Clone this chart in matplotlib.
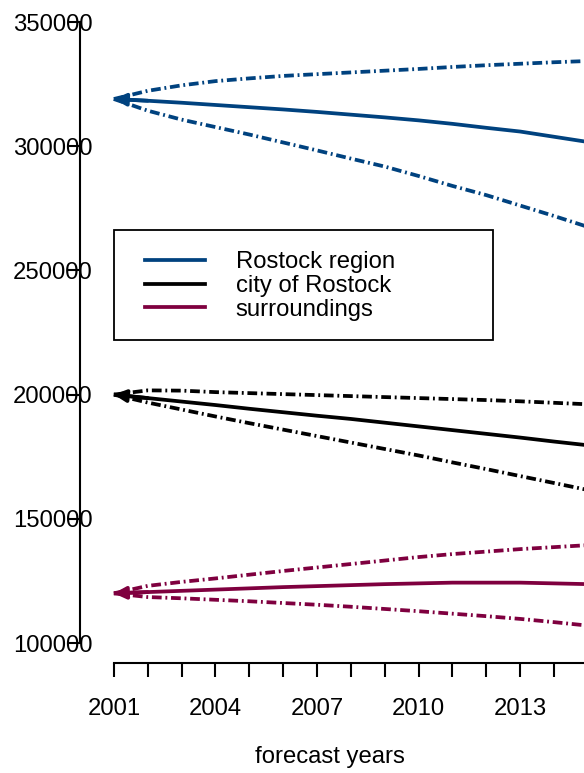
import matplotlib.pyplot as plt
from matplotlib.lines import Line2D
from matplotlib.patches import Rectangle

# -----------------------------------------------------------------------------
# DATA
# -----------------------------------------------------------------------------
years = [2001, 2002, 2003, 2004, 2005, 2006, 2007, 2008,
         2009, 2010, 2011, 2012, 2013, 2014, 2015]

region_mid = [319000, 318300, 317500, 316600, 315700, 314800, 313800, 312700,
              311600, 310400, 309000, 307400, 305900, 303800, 301700]
region_hi = [319000, 322300, 324500, 326200, 327300, 328300, 329000, 329700,
             330400, 331100, 331900, 332600, 333200, 333800, 334300]
region_lo = [319000, 314300, 310700, 307700, 304700, 301500, 298300, 295000,
             291800, 288000, 284000, 280300, 276100, 271900, 267500]

city_mid = [200000, 198600, 197200, 195800, 194300, 192900, 191500, 190200,
            188700, 187200, 185700, 184200, 182700, 181100, 179600]
city_hi = [200000, 201700, 201600, 201000, 200600, 200200, 199800, 199400,
           199000, 198600, 198200, 197800, 197300, 196700, 196100]
city_lo = [200000, 196800, 194000, 191200, 188500, 185900, 183300, 180700,
           178100, 175500, 172700, 170000, 167200, 164400, 161600]

surr_mid = [120000, 120500, 121000, 121500, 122000, 122500, 122900, 123300,
            123700, 124000, 124300, 124300, 124300, 124000, 123700]
surr_hi = [120000, 123000, 124600, 126000, 127500, 129000, 130400, 131800,
           133200, 134600, 135800, 136800, 137800, 138600, 139400]
surr_lo = [120000, 118500, 118000, 117400, 116800, 116100, 115400, 114600,
           113700, 112800, 111800, 110800, 109700, 108400, 107000]

labels = ["Rostock region", "city of Rostock", "surroundings"]
y_ticks = [100000, 150000, 200000, 250000, 300000, 350000]
x_label_years = [2001, 2004, 2007, 2010, 2013]

# -----------------------------------------------------------------------------
# STYLE
# -----------------------------------------------------------------------------
COLOR_REGION = "#00427F"
COLOR_CITY = "#000000"
COLOR_SURR = "#7F003F"
LW = 2.7
DOTDASH = (0, (2.6, 1.0, 0.5, 1.0))
FS = 17.2

W, H = 584, 773

plt.rcParams["font.family"] = ["Liberation Sans", "DejaVu Sans"]

fig = plt.figure(figsize=(W / 100, H / 100), dpi=100)
# axes run past the right edge, the reference is cropped there
ax = fig.add_axes([80 / W, 110 / H, 541.8 / W, 663 / H])
ax.set_xlim(2000.0, 2016.0)
ax.set_ylim(91950, 358857)

series = [
    (region_mid, region_hi, region_lo, COLOR_REGION),
    (city_mid, city_hi, city_lo, COLOR_CITY),
    (surr_mid, surr_hi, surr_lo, COLOR_SURR),
]
for mid, hi, lo, color in series:
    ax.plot(years, hi, color=color, lw=LW, linestyle=DOTDASH)
    ax.plot(years, lo, color=color, lw=LW, linestyle=DOTDASH)
    ax.plot(years, mid, color=color, lw=LW, solid_capstyle="butt")
    # arrow head at the start year
    ax.annotate("", xy=(years[0], mid[0]), xytext=(years[1], mid[1]),
                arrowprops=dict(arrowstyle="-|>", color=color, lw=LW,
                                mutation_scale=18, shrinkA=0, shrinkB=0))

# axes in R base style
for side in ["top", "right"]:
    ax.spines[side].set_visible(False)
ax.spines["left"].set_bounds(y_ticks[0], y_ticks[-1])
ax.spines["bottom"].set_bounds(years[0], 2016)
ax.spines["left"].set_linewidth(1.5)
ax.spines["bottom"].set_linewidth(1.5)

ax.set_yticks(y_ticks)
ax.set_yticklabels([str(v) for v in y_ticks])
ax.tick_params(axis="y", length=8.5, width=1.5, pad=-17.5, labelsize=FS)

ax.set_xticks(years + [2016])
ax.set_xticklabels([str(y) if y in x_label_years else "" for y in years] + [""])
ax.tick_params(axis="x", length=10, width=1.5, pad=15, labelsize=FS)

fig.text(330 / W, 1 - 757 / H, "forecast years", ha="center", va="center",
         fontsize=FS)

# legend box drawn separately so the inner offsets match the R layout
fig.patches.append(Rectangle((114 / W, 1 - 340 / H), 379 / W, 110 / H,
                             transform=fig.transFigure, fill=False,
                             edgecolor="black", linewidth=1.3))
handles = [Line2D([], [], color=c, lw=LW) for c in [COLOR_REGION, COLOR_CITY, COLOR_SURR]]
fig.legend(handles, labels, loc="upper left",
           bbox_to_anchor=(145 / W, 1 - 251 / H), fontsize=FS, frameon=False,
           borderpad=0, borderaxespad=0, labelspacing=0.08,
           handlelength=2.5, handletextpad=1.3)

fig.savefig("out.png", dpi=100)
